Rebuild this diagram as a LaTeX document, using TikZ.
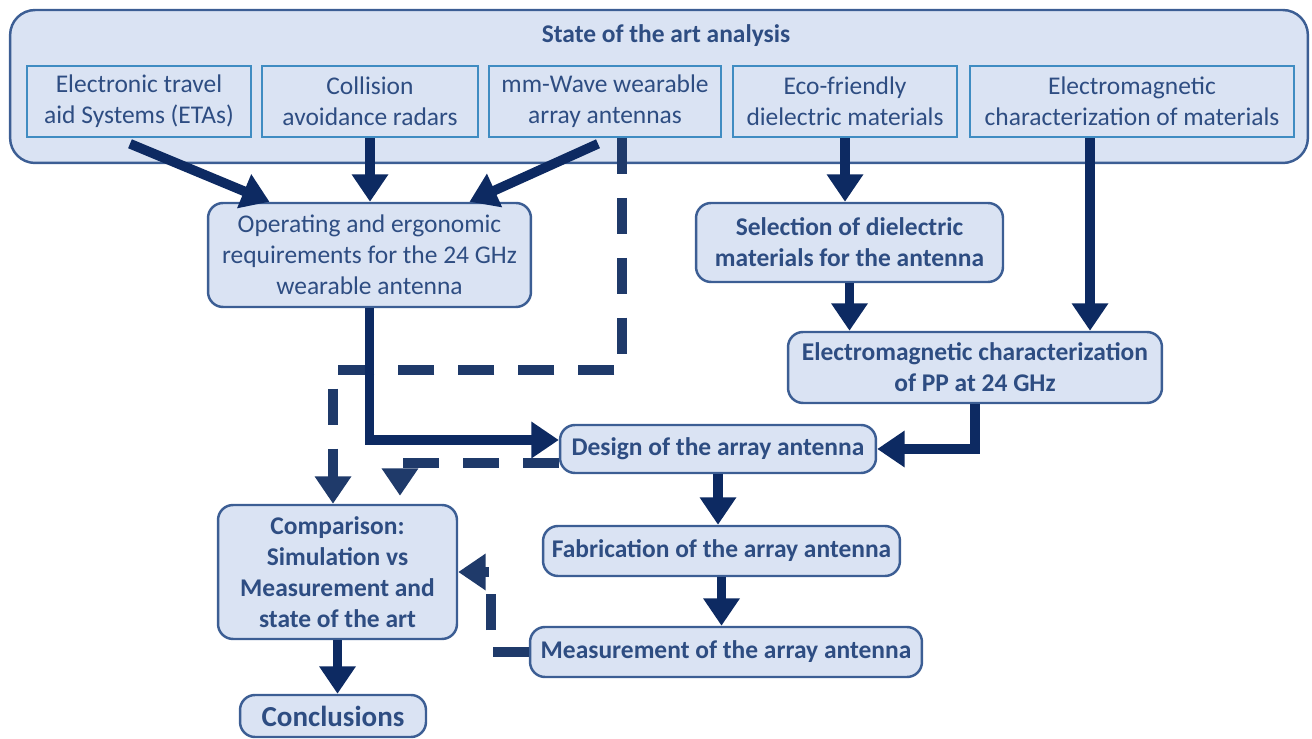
\documentclass[tikz,border=0pt]{standalone}
\usepackage{fontspec}
\setmainfont{Carlito}
\usepackage{tikz}
\usetikzlibrary{arrows.meta, positioning, calc}

\definecolor{boxfill}{HTML}{DAE3F3}
\definecolor{boxline}{HTML}{3C5E94}
\definecolor{topline}{HTML}{3F8CC2}
\definecolor{textblue}{HTML}{2E4D82}
\definecolor{navy}{HTML}{0D2A62}
\definecolor{dashnavy}{HTML}{1F3A6A}

\begin{document}
\begin{tikzpicture}[
    x=0.02cm, y=-0.02cm,
    outer/.style={rectangle, draw=boxline, line width=1.4pt, fill=boxfill, rounded corners=0.5cm},
    topbox/.style={rectangle, draw=topline, line width=0.9pt, fill=boxfill, align=center, text=textblue, font=\fontsize{14.5}{17.6}\selectfont, inner sep=0pt},
    box/.style={rectangle, draw=boxline, line width=1.4pt, fill=boxfill, rounded corners=0.3cm, align=center, text=textblue, font=\fontsize{14.5}{17.6}\selectfont, inner sep=0pt},
    boldbox/.style={box, font=\fontsize{14.5}{17.6}\selectfont\bfseries},
    arrow/.style={-{Triangle[length=0.55cm, width=0.7cm]}, line width=5.5pt, draw=navy},
    dasharrow/.style={arrow, draw=dashnavy, dash pattern=on 0.72cm off 0.48cm}
]
\useasboundingbox (0,0) rectangle (1312,739);

% state of the art
\node[outer, minimum width=25.96cm, minimum height=3.06cm] (soa) at (659,86.5) {};
\node[text=textblue, font=\fontsize{14.5}{17}\selectfont\bfseries] (soatitle) at (666,36) {State of the art analysis};

\node[topbox, minimum width=4.48cm, minimum height=1.42cm] (etas) at (139,101.5) {Electronic travel\\aid Systems (ETAs)};
\node[topbox, minimum width=4.32cm, minimum height=1.42cm] (coll) at (370,101.5) {Collision\\avoidance radars};
\node[topbox, minimum width=4.64cm, minimum height=1.42cm] (mmw) at (605,101.5) {mm-Wave wearable\\array antennas};
\node[topbox, minimum width=4.48cm, minimum height=1.42cm] (eco) at (845,101.5) {Eco-friendly\\dielectric materials};
\node[topbox, minimum width=6.48cm, minimum height=1.42cm] (emc) at (1132,101.5) {Electromagnetic\\characterization of materials};

% work flow
\node[box, minimum width=6.46cm, minimum height=2.08cm] (oper) at (369.5,255) {Operating and ergonomic\\requirements for the 24 GHz\\wearable antenna};
\node[boldbox, minimum width=6.14cm, minimum height=1.58cm] (sel) at (849.5,242.5) {Selection of dielectric\\materials for the antenna};
\node[boldbox, minimum width=7.48cm, minimum height=1.42cm] (empp) at (975,367.5) {Electromagnetic characterization\\of PP at 24 GHz};
\node[boldbox, minimum width=6.32cm, minimum height=0.96cm] (design) at (718,449) {Design of the array antenna};
\node[boldbox, minimum width=7.14cm, minimum height=1.0cm] (fab) at (721.5,551) {Fabrication of the array antenna};
\node[boldbox, minimum width=7.84cm, minimum height=1.0cm] (meas) at (726,652) {Measurement of the array antenna};
\node[boldbox, minimum width=4.78cm, minimum height=2.68cm] (comp) at (337.5,572) {Comparison:\\Simulation vs\\Measurement and\\state of the art};
\node[boldbox, minimum width=3.72cm, minimum height=0.84cm, font=\fontsize{16.5}{19}\selectfont\bfseries] (concl) at (333,716) {Conclusions};

\coordinate (dbend) at (333,370);

\draw[arrow] ([xshift=-0.18cm, yshift=-0.12cm]etas.south) -- ([xshift=-2cm]oper.north);
\draw[arrow] (coll.south) -- (coll.south |- oper.north);
\draw[arrow] ([xshift=-0.14cm, yshift=-0.12cm]mmw.south) -- ([xshift=2cm]oper.north);
\draw[dasharrow] ([xshift=0.34cm]mmw.south) |- (dbend) -- (dbend |- comp.north);
\draw[arrow] (eco.south) -- (eco.south |- sel.north);
\draw[arrow] ([xshift=-0.84cm]emc.south) -- ([xshift=-0.84cm]emc.south |- empp.north);
\draw[arrow] (sel.south) -- (sel.south |- empp.north);
\draw[arrow] (oper.south) |- ([yshift=0.18cm]design.west);
\draw[arrow] (empp.south) |- (design.east);
\draw[dasharrow] ([yshift=-0.28cm]design.west) -| ([xshift=1.25cm, yshift=0.16cm]comp.north);
\draw[arrow] (design.south) -- (design.south |- fab.north);
\draw[arrow] (fab.south) -- (fab.south |- meas.north);
\draw[dasharrow] (meas.west) -- ++(-38,0) |- (comp.east);
\draw[arrow] (comp.south) -- (comp.south |- concl.north);

\end{tikzpicture}
\end{document}
